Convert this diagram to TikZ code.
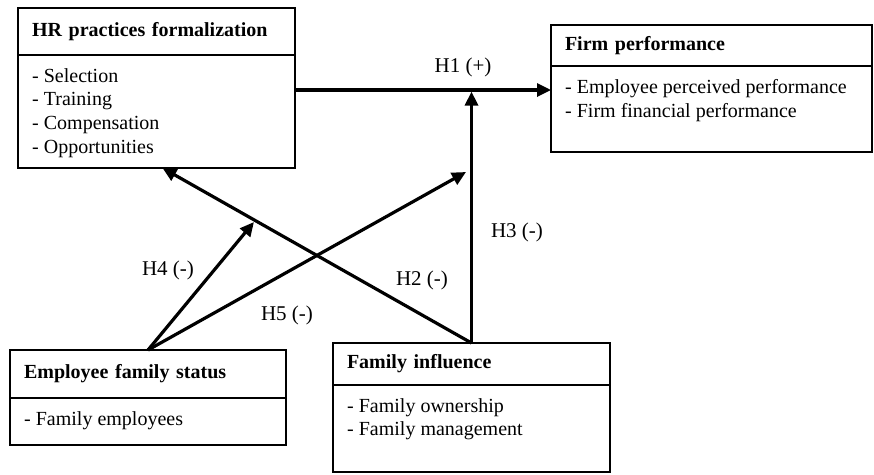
\documentclass[tikz,border=0pt]{standalone}
\usepackage{fontspec}
\setmainfont{Liberation Serif}
\usetikzlibrary{arrows.meta,calc,positioning}
\tikzset{%
	titlebox/.style = {draw, rectangle, line width=1.6pt, outer sep=0pt, inner xsep=14pt, align=left, font=\fontsize{20}{24}\selectfont\bfseries},
	bodybox/.style  = {draw, rectangle, line width=1.6pt, outer sep=0pt, inner sep=0pt},
	itemlist/.style = {align=left, inner xsep=14pt, inner ysep=0pt, font=\fontsize{20}{23.75}\selectfont},
	hyp/.style      = {font=\fontsize{21}{24}\selectfont},
	arrow/.style    = {line width=3.2pt, -{Triangle[length=14pt,width=13pt]}},
}
\begin{document}
\begin{tikzpicture}[x=1pt,y=-1pt]
	\useasboundingbox (0,0) rectangle (874,474);
	% HR practices
	\node[titlebox, text width=249pt, minimum height=47pt, anchor=north west] (hrtitle) at (18,8) {HR practices formalization};
	\node[bodybox, minimum width=277pt, minimum height=113pt, anchor=north] (hrbody) at (hrtitle.south) {};
	\node[itemlist, below right=13pt and 0pt of hrbody.north west] (hrlist) {- Selection\\- Training\\- Compensation\\- Opportunities};
	% firm performance
	\node[titlebox, text width=293pt, minimum height=41pt, anchor=north west] (firmtitle) at (551,25) {Firm performance};
	\node[bodybox, minimum width=321pt, minimum height=86pt, anchor=north] (firmbody) at (firmtitle.south) {};
	\node[itemlist, below right=13pt and 0pt of firmbody.north west] (firmlist) {- Employee perceived performance\\- Firm financial performance};
	% employee family status
	\node[titlebox, text width=248pt, minimum height=48pt, anchor=north west] (emptitle) at (10,350) {Employee family status};
	\node[bodybox, minimum width=276pt, minimum height=47pt, anchor=north] (empbody) at (emptitle.south) {};
	\node[itemlist, below right=13pt and 0pt of empbody.north west] (emplist) {- Family employees};
	% family influence
	\node[titlebox, text width=249pt, minimum height=42pt, anchor=north west] (famtitle) at (333,343) {Family influence};
	\node[bodybox, minimum width=277pt, minimum height=87pt, anchor=north] (fambody) at (famtitle.south) {};
	\node[itemlist, below right=13pt and 0pt of fambody.north west] (famlist) {- Family ownership\\- Family management};
	% hypotheses
	\coordinate (h1) at (470,90);
	\draw[arrow] (hrbody.east |- h1) -- (firmbody.west |- h1);
	\draw[arrow, shorten >=1.6pt] (famtitle.north) -- (famtitle.north |- h1);
	\coordinate (h2end) at ([xshift=6pt]hrbody.south);
	\draw[arrow] (famtitle.north) -- (h2end);
	\coordinate (h4end) at ($(famtitle.north)!0.7!(h2end)$);
	\draw[arrow, shorten >=2pt] (emptitle.north) -- (h4end);
	\coordinate (h5end) at (466,172);
	\draw[arrow] (emptitle.north) -- (h5end);
	\node[hyp] (h1label) at (463,67) {H1 (+)};
	\node[hyp] (h2label) at (422,280) {H2 (-)};
	\node[hyp] (h3label) at (517,232) {H3 (-)};
	\node[hyp] (h4label) at (168,270) {H4 (-)};
	\node[hyp] (h5label) at (287,315) {H5 (-)};
\end{tikzpicture}
\end{document}
